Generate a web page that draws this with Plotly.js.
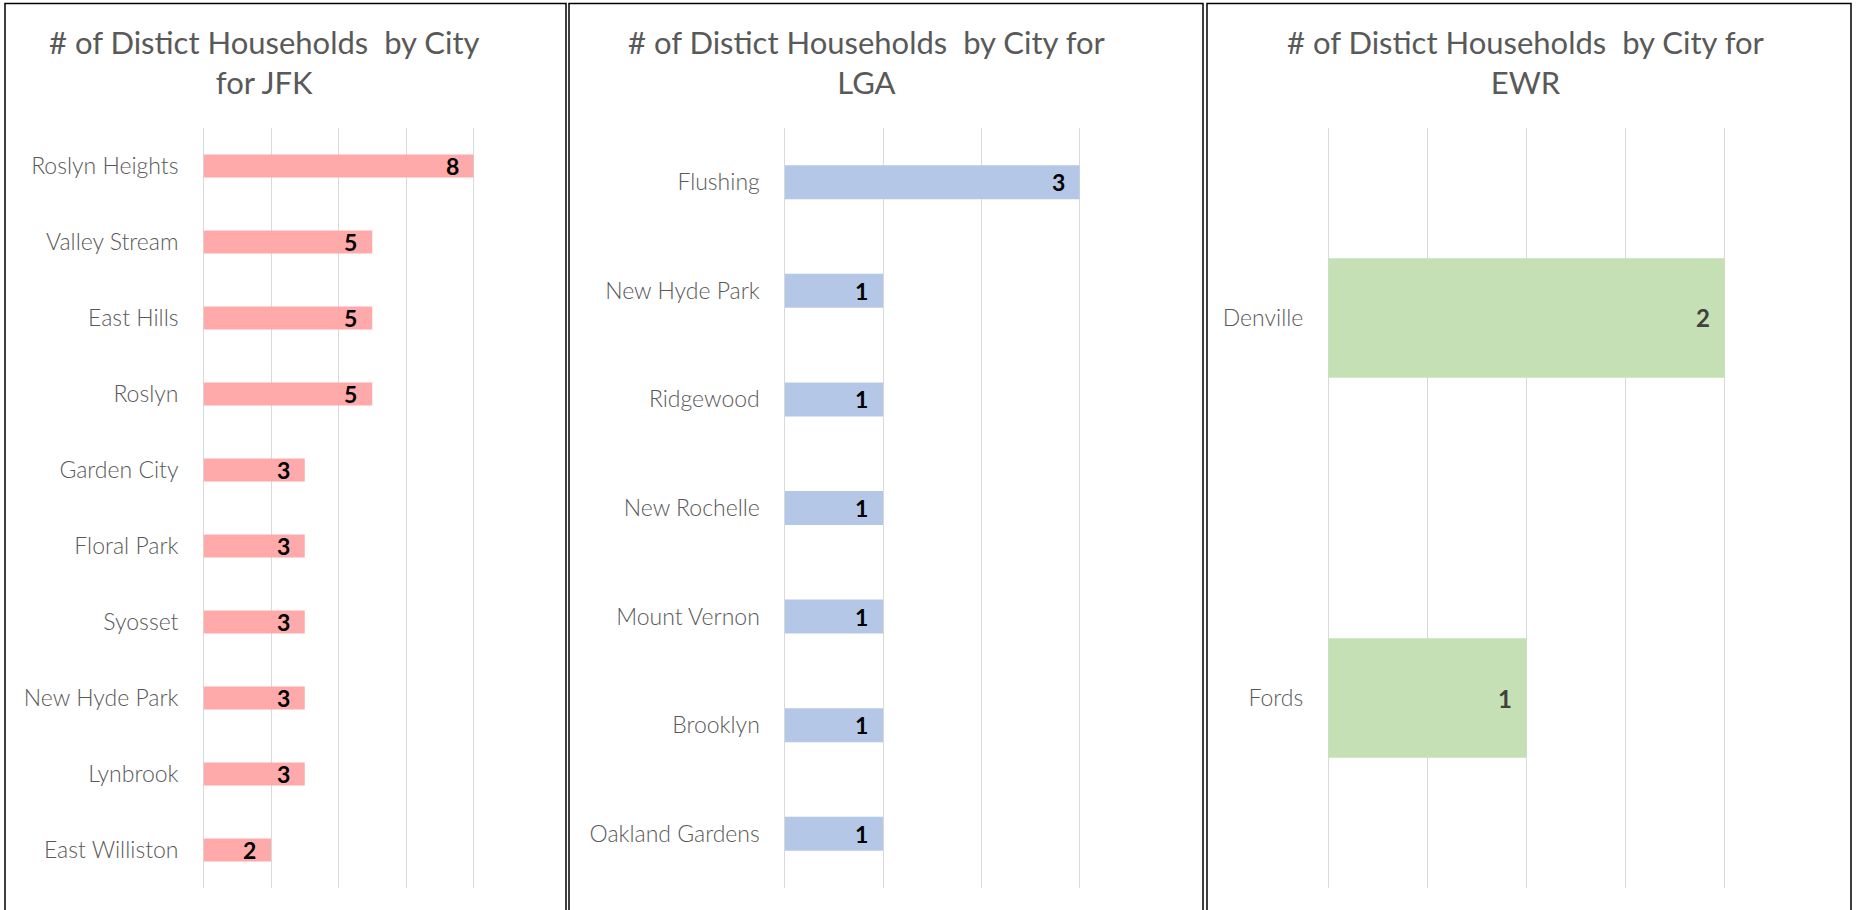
<!DOCTYPE html>
<html>
<head>
<meta charset="utf-8">
<script src="https://cdn.plot.ly/plotly-3.0.1.min.js"></script>
<style>
  html, body { margin: 0; padding: 0; background: #fff; }
  #chart { width: 1856px; height: 910px; }
</style>
</head>
<body>
<div id="chart"></div>
<script>
// ---- data ----
const jfkCities = ["Roslyn Heights", "Valley Stream", "East Hills", "Roslyn", "Garden City", "Floral Park", "Syosset", "New Hyde Park", "Lynbrook", "East Williston"];
const jfkCounts = [8, 5, 5, 5, 3, 3, 3, 3, 3, 2];

const lgaCities = ["Flushing", "New Hyde Park", "Ridgewood", "New Rochelle", "Mount Vernon", "Brooklyn", "Oakland Gardens"];
const lgaCounts = [3, 1, 1, 1, 1, 1, 1];

const ewrCities = ["Denville", "Fords"];
const ewrCounts = [2, 1];

const titles = [
  "# of Distict Households\u00A0 by City<br>for JFK",
  "# of Distict Households\u00A0 by City for<br>LGA",
  "# of Distict Households\u00A0 by City for<br>EWR"
];

// ---- styling ----
const W = 1856, H = 910;
const px = v => v / W;
const py = v => 1 - v / H;
const FONT = "Lato, 'Open Sans', sans-serif";

const panels = [
  {cities: jfkCities, counts: jfkCounts, color: "#FFAAAA", x0: 203.5, x1: 541, range: [0, 10], dtick: 2, tx: 264, labelColor: "#000000", labelSize: 23, barW: 0.3, box: [5, 566]},
  {cities: lgaCities, counts: lgaCounts, color: "#B4C7E7", x0: 784.8, x1: 1177.8, range: [0, 4], dtick: 1, tx: 867, labelColor: "#000000", labelSize: 23, barW: 0.313, box: [569, 1203]},
  {cities: ewrCities, counts: ewrCounts, color: "#C5E0B4", x0: 1328.3, x1: 1824, range: [0, 2.5], dtick: 0.5, tx: 1526, labelColor: "#404040", labelSize: 24, barW: 0.314, box: [1207, 1851]}
];

const data = [];
const layout = {
  width: W, height: H,
  margin: {l: 0, r: 0, t: 0, b: 0},
  paper_bgcolor: "#ffffff",
  plot_bgcolor: "rgba(0,0,0,0)",
  showlegend: false,
  annotations: [],
  shapes: [],
  font: {family: FONT}
};

panels.forEach((p, i) => {
  const n = i === 0 ? "" : String(i + 1);
  const xa = "x" + n, ya = "y" + n;
  data.push({
    type: "bar",
    orientation: "h",
    x: p.counts,
    y: p.cities,
    width: p.barW,
    xaxis: xa,
    yaxis: ya,
    marker: {color: p.color, line: {width: 0}},
    hoverinfo: "x+y"
  });
  layout["xaxis" + n] = {
    domain: [px(p.x0), px(p.x1)],
    anchor: ya,
    range: p.range,
    dtick: p.dtick,
    tick0: 0,
    showgrid: true,
    gridcolor: "#D9D9D9",
    gridwidth: 1,
    zeroline: true,
    zerolinecolor: "#D9D9D9",
    zerolinewidth: 1,
    showticklabels: false,
    showline: false,
    ticks: "",
    fixedrange: true
  };
  layout["yaxis" + n] = {
    domain: [py(888), py(128)],
    anchor: xa,
    type: "category",
    autorange: "reversed",
    showgrid: false,
    zeroline: false,
    showline: false,
    ticks: "",
    ticklabelstandoff: 24,
    tickfont: {family: FONT, size: 23, color: "#595959", weight: 300},
    fixedrange: true
  };
  // value labels at inside end of each bar
  p.counts.forEach((v, k) => {
    layout.annotations.push({
      xref: xa, yref: ya,
      x: v, y: p.cities[k],
      text: String(v),
      showarrow: false,
      xanchor: "right",
      yanchor: "middle",
      xshift: -13,
      font: {family: FONT, size: p.labelSize, color: p.labelColor, weight: "bold"}
    });
  });
  // chart title
  layout.annotations.push({
    xref: "paper", yref: "paper",
    x: px(p.tx), y: py(62),
    xanchor: "center", yanchor: "middle",
    text: titles[i],
    showarrow: false,
    align: "center",
    font: {family: FONT, size: 31, color: "#595959"}
  });
  // panel frame
  layout.shapes.push({
    type: "rect", xref: "paper", yref: "paper",
    x0: px(p.box[0]), x1: px(p.box[1]),
    y0: py(915), y1: py(3.5),
    line: {color: "#000000", width: 1.5},
    fillcolor: "rgba(0,0,0,0)"
  });
});

Plotly.newPlot("chart", data, layout, {displayModeBar: false, staticPlot: true});
</script>
</body>
</html>
